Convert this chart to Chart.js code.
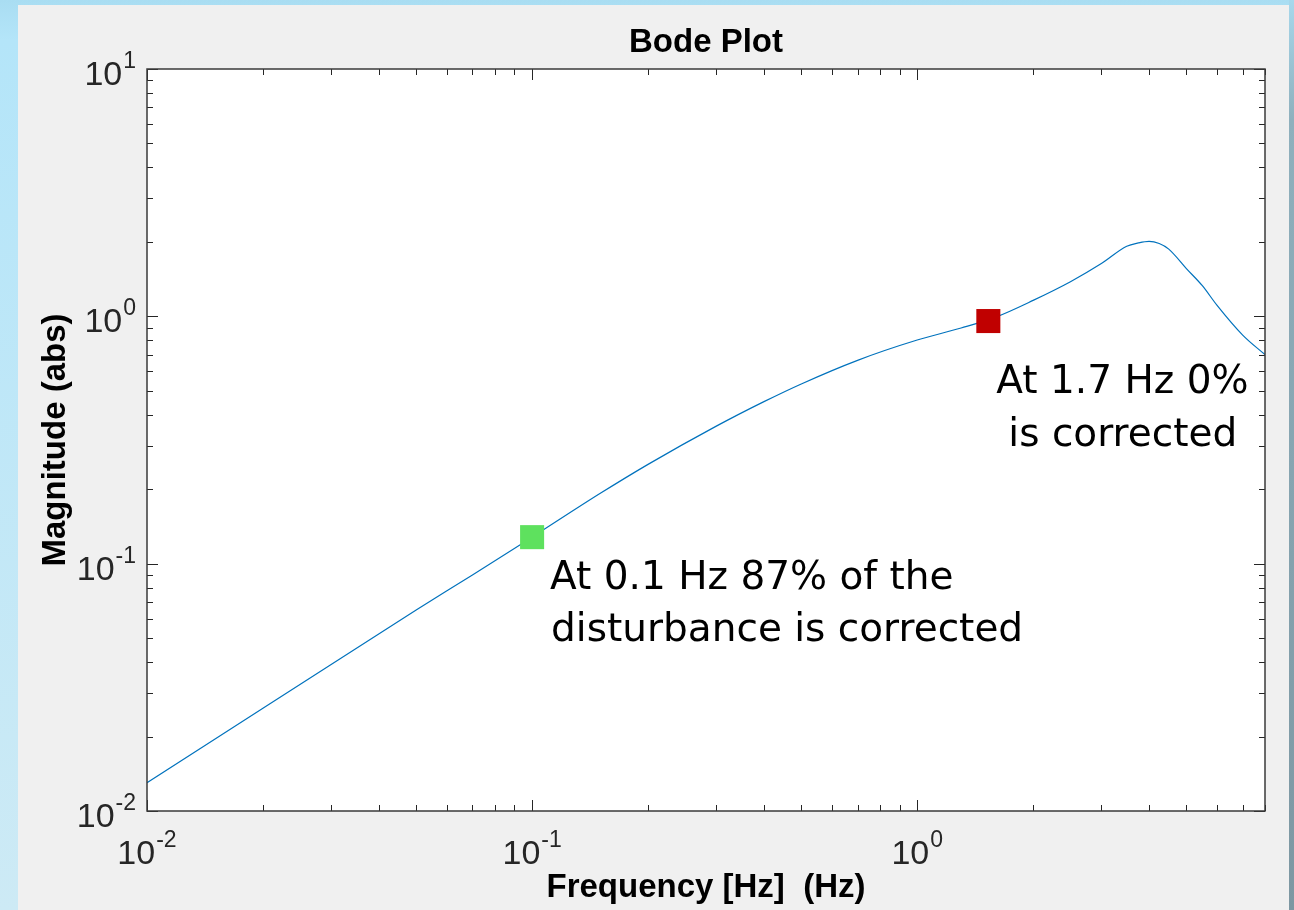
<!DOCTYPE html>
<html>
<head>
<meta charset="utf-8">
<title>Bode Plot</title>
<script src="https://cdn.jsdelivr.net/npm/chart.js@4.4.1/dist/chart.umd.min.js"></script>
<style>
  html, body { margin: 0; padding: 0; }
  body {
    width: 1294px; height: 910px; overflow: hidden; position: relative;
    background: linear-gradient(to bottom, #a9ddf2 0px, #b4e5f9 40px, #cdeaf5 910px);
  }
  #rightEdge {
    position: absolute; left: 1289px; top: 0; width: 5px; height: 910px;
    background: linear-gradient(to bottom, #a7d8ec 0px, #8fb0bd 120px, #7d97a2 910px);
  }
  #panel {
    position: absolute; left: 18px; top: 5px; width: 1271px; height: 905px;
    background: #f0f0f0;
  }
  #panel canvas { display: block; }
</style>
</head>
<body>
<div id="rightEdge"></div>
<div id="panel"><canvas id="bodeChart" width="1271" height="905"></canvas></div>

<script>
// ---- data ----
const freqHz = [0.01, 0.02, 0.03, 0.05, 0.07, 0.1, 0.15, 0.2, 0.3, 0.4, 0.5, 0.7,
                1.0, 1.3, 1.6, 2.0, 2.5, 3.0, 3.5, 3.75, 4.0, 4.25, 4.5, 5.0, 5.5, 6.0, 7.0, 8.0];
const magnitude = [0.013, 0.026, 0.039, 0.065, 0.090, 0.128, 0.192, 0.252, 0.359, 0.452, 0.533, 0.664,
                   0.802, 0.897, 0.993, 1.16, 1.38, 1.63, 1.92, 1.98, 2.01, 1.97, 1.87, 1.56, 1.33, 1.11, 0.84, 0.70];

const markerFreq = [0.1, 1.53];
const markerMag = [0.128, 0.957];
const markerColors = ['#5ee15e', '#c00000'];

const noteLines = [
    ['At 0.1 Hz 87% of the', 'disturbance is corrected'],
    ['At 1.7 Hz 0%', 'is corrected']
];

const xDecades = [0.01, 0.1, 1];
const yDecades = [0.01, 0.1, 1, 10];
const xLimits = [0.01, 8];
const yLimits = [0.01, 10];

const plotTitle = 'Bode Plot';


// ---- helpers ----
function isDecade(v) {
    const l = Math.log10(v);
    return Math.abs(l - Math.round(l)) < 1e-9;
}

// majors at every decade, minors at 2..9 times
function logTicks(decades, max) {
    const ticks = [];
    decades.forEach(d => {
        for (let k = 1; k < 10; k++) {
            const v = +(d * k).toPrecision(6);
            if (v <= max * 1.0001) ticks.push({ value: v, major: k === 1 });
        }
    });
    return ticks;
}

const FONT = "'Liberation Sans', Arial, sans-serif";


// white axes background
const plotBgPlugin = {
    id: 'plotBg',
    beforeDraw(chart) {
        const { ctx, chartArea: a } = chart;
        ctx.save();
        ctx.fillStyle = '#ffffff';
        ctx.fillRect(a.left, a.top, a.right - a.left, a.bottom - a.top);
        ctx.restore();
    }
};


// title centred over the axes, like MATLAB does it
const axesTitlePlugin = {
    id: 'axesTitle',
    afterDraw(chart) {
        const { ctx, chartArea: a } = chart;
        ctx.save();
        ctx.font = 'bold 33px ' + FONT;
        ctx.fillStyle = '#000000';
        ctx.textAlign = 'center';
        ctx.textBaseline = 'alphabetic';
        ctx.fillText(plotTitle, (a.left + a.right) / 2, a.top - 17);
        ctx.restore();
    }
};


// ---- box + inward tick marks (MATLAB style) ----
const boxPlugin = {
    id: 'matlabBox',
    afterDatasetsDraw(chart) {
        const { ctx, chartArea: a, scales: { x, y } } = chart;
        ctx.save();
        ctx.strokeStyle = '#262626';
        ctx.lineWidth = 1;
        ctx.beginPath();
        x.ticks.forEach(t => {
            const px = Math.round(x.getPixelForValue(t.value)) + 0.5;
            const len = isDecade(t.value) ? 11 : 6;
            ctx.moveTo(px, a.bottom); ctx.lineTo(px, a.bottom - len);
            ctx.moveTo(px, a.top); ctx.lineTo(px, a.top + len);
        });
        y.ticks.forEach(t => {
            const py = Math.round(y.getPixelForValue(t.value)) + 0.5;
            const len = isDecade(t.value) ? 11 : 6;
            ctx.moveTo(a.left, py); ctx.lineTo(a.left + len, py);
            ctx.moveTo(a.right, py); ctx.lineTo(a.right - len, py);
        });
        ctx.stroke();

        ctx.strokeStyle = '#3a3a3a';
        ctx.lineWidth = 1.5;
        ctx.strokeRect(a.left, a.top, a.right - a.left, a.bottom - a.top);
        ctx.restore();
    }
};


// ---- decade labels 10^n with a raised exponent ----
const decadeLabelPlugin = {
    id: 'decadeLabels',
    afterDraw(chart) {
        const { ctx, chartArea: a, scales: { x, y } } = chart;
        const baseFont = '34px ' + FONT;
        const expFont = '23px ' + FONT;

        function measure(exp) {
            ctx.font = baseFont;
            const wb = ctx.measureText('10').width;
            ctx.font = expFont;
            const we = ctx.measureText(exp).width;
            return [wb, we];
        }

        function put(left, baseY, exp, wb) {
            ctx.font = baseFont;
            ctx.fillText('10', left, baseY);
            ctx.font = expFont;
            ctx.fillText(exp, left + wb + 1, baseY - 17);
        }

        ctx.save();
        ctx.fillStyle = '#262626';
        ctx.textBaseline = 'alphabetic';
        ctx.textAlign = 'left';

        x.ticks.filter(t => isDecade(t.value)).forEach(t => {
            const exp = String(Math.round(Math.log10(t.value)));
            const [wb, we] = measure(exp);
            const px = x.getPixelForValue(t.value);
            put(px - (wb + we + 1) / 2, a.bottom + 53, exp, wb);
        });

        y.ticks.filter(t => isDecade(t.value)).forEach(t => {
            const exp = String(Math.round(Math.log10(t.value)));
            const [wb, we] = measure(exp);
            const py = y.getPixelForValue(t.value);
            put(a.left - 11 - (wb + we + 1), py + 16, exp, wb);
        });
        ctx.restore();
    }
};


// ---- text notes next to the two markers ----
const notesPlugin = {
    id: 'notes',
    afterDatasetsDraw(chart) {
        const { ctx, scales: { x, y } } = chart;
        const offsets = [
            [[18, 52], [19, 104]],
            [[8, 72], [20, 125]]
        ];
        ctx.save();
        ctx.font = "39px 'DejaVu Sans', sans-serif";
        ctx.fillStyle = '#000000';
        ctx.textBaseline = 'alphabetic';
        noteLines.forEach((lines, i) => {
            const px = x.getPixelForValue(markerFreq[i]);
            const py = y.getPixelForValue(markerMag[i]);
            lines.forEach((txt, j) => {
                ctx.fillText(txt, px + offsets[i][j][0], py + offsets[i][j][1]);
            });
        });
        ctx.restore();
    }
};


const ctx = document.getElementById('bodeChart').getContext('2d');

new Chart(ctx, {

    type: 'line',

    data: {
        datasets: [
            {
                label: 'markers',
                data: markerFreq.map((f, i) => ({ x: f, y: markerMag[i] })),
                showLine: false,
                pointStyle: 'rect',
                pointRadius: 17,
                pointBorderWidth: 0,
                pointBackgroundColor: markerColors,
                pointBorderColor: markerColors,
                order: 0
            },
            {
                label: 'magnitude',
                data: freqHz.map((f, i) => ({ x: f, y: magnitude[i] })),
                borderColor: '#0072BD',
                borderWidth: 1.2,
                pointRadius: 0,
                fill: false,
                cubicInterpolationMode: 'monotone',
                order: 1
            }
        ]
    },

    options: {
        responsive: false,
        animation: false,
        layout: {
            padding: { left: 0, right: 24, top: 64, bottom: 0 }
        },
        plugins: {
            legend: { display: false },
            tooltip: { enabled: false },
            title: { display: false }
        },
        scales: {
            x: {
                type: 'logarithmic',
                position: 'bottom',
                min: xLimits[0],
                max: xLimits[1],
                grid: { display: false },
                border: { display: false },
                afterBuildTicks: axis => { axis.ticks = logTicks(xDecades, xLimits[1]); },
                afterFit: axis => { axis.height = 99; },
                ticks: { display: false, autoSkip: false },
                title: {
                    display: true,
                    text: 'Frequency [Hz]  (Hz)',
                    color: '#000000',
                    font: { family: FONT, size: 33, weight: 'bold' },
                    padding: { top: 0, bottom: 2 }
                }
            },
            y: {
                type: 'logarithmic',
                position: 'left',
                min: yLimits[0],
                max: yLimits[1],
                grid: { display: false },
                border: { display: false },
                afterBuildTicks: axis => { axis.ticks = logTicks(yDecades, yLimits[1]); },
                afterFit: axis => { axis.width = 129; },
                ticks: { display: false, autoSkip: false },
                title: {
                    display: true,
                    text: 'Magnitude (abs)',
                    color: '#000000',
                    font: { family: FONT, size: 33, weight: 'bold' },
                    padding: { top: 18, bottom: 0 }
                }
            }
        }
    },

    plugins: [plotBgPlugin, boxPlugin, decadeLabelPlugin, notesPlugin, axesTitlePlugin]

});
</script>
</body>
</html>
